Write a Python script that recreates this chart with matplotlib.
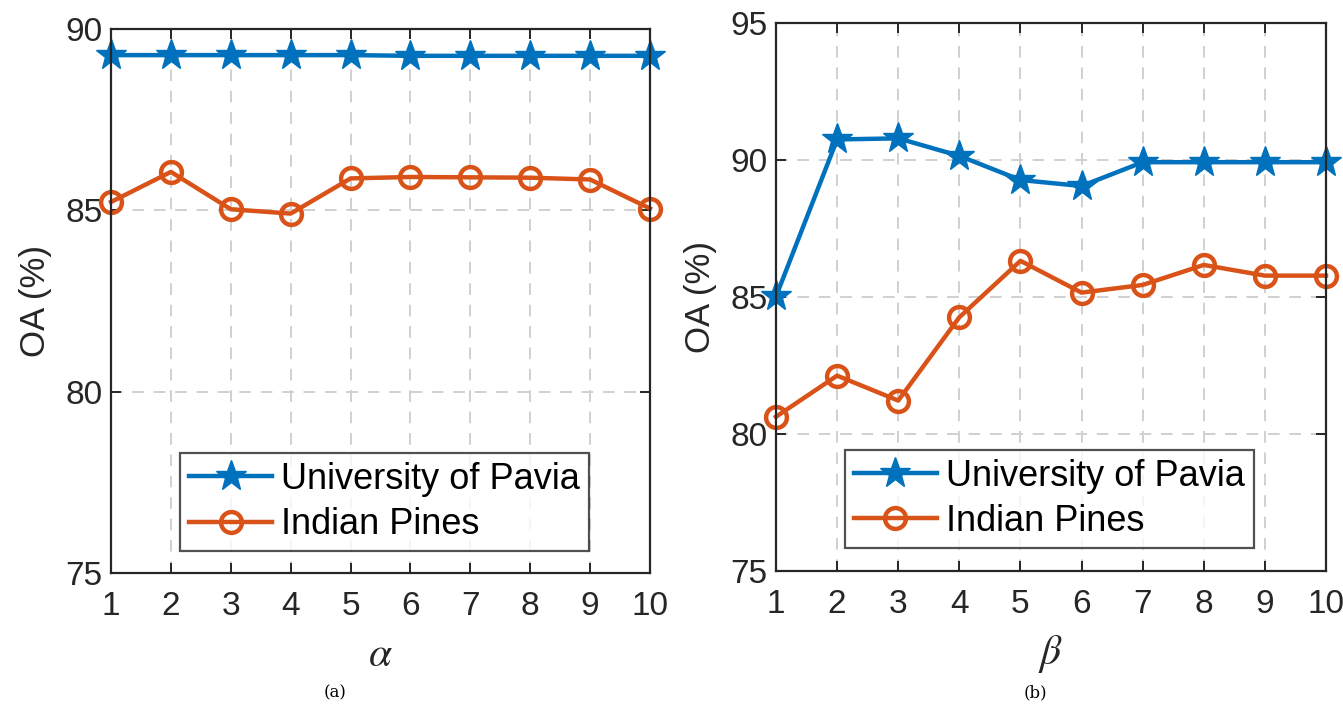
import matplotlib
matplotlib.use("Agg")
import matplotlib.pyplot as plt

# Parameter values
params = [1, 2, 3, 4, 5, 6, 7, 8, 9, 10]

# Overall accuracy (%) versus alpha
alpha_pavia = [89.28, 89.28, 89.28, 89.28, 89.28, 89.26, 89.26, 89.26, 89.26, 89.26]
alpha_pines = [85.23, 86.06, 85.03, 84.91, 85.88, 85.92, 85.91, 85.90, 85.85, 85.05]

# Overall accuracy (%) versus beta
beta_pavia = [85.02, 90.75, 90.79, 90.15, 89.27, 89.05, 89.92, 89.92, 89.92, 89.92]
beta_pines = [80.63, 82.13, 81.22, 84.26, 86.32, 85.16, 85.44, 86.17, 85.78, 85.78]

series_names = ["University of Pavia", "Indian Pines"]
yticks_a = [75, 80, 85, 90]
yticks_b = [75, 80, 85, 90, 95]

BLUE = "#0072BD"
ORANGE = "#D95319"
AXIS = "#262626"

plt.rcParams["font.family"] = ["Liberation Sans", "DejaVu Sans"]
plt.rcParams["mathtext.fontset"] = "stix"

fig = plt.figure(figsize=(13.43, 7.05), dpi=100)
W, H = 1343, 705


def panel(rect, pavia, pines, yticks, xlab, caption, cap_x, leg_bbox):
    x0, y0, x1, y1 = rect
    ax = fig.add_axes([x0 / W, 1 - y1 / H, (x1 - x0) / W, (y1 - y0) / H])
    ax.plot(params, pavia, color=BLUE, lw=3.2, marker="*", ms=23,
            mfc=BLUE, mec=BLUE, label=series_names[0], clip_on=False, zorder=4)
    ax.plot(params, pines, color=ORANGE, lw=3.2, marker="o", ms=15,
            mfc="none", mec=ORANGE, mew=3.2, label=series_names[1],
            clip_on=False, zorder=4)
    ax.set_xlim(1, 10)
    ax.set_ylim(yticks[0], yticks[-1])
    ax.set_xticks(params)
    ax.set_yticks(yticks)
    ax.grid(True, color="#d0d0d0", ls=(0, (6, 5)), lw=1.4)
    ax.tick_params(direction="in", length=7, width=1.4, color=AXIS,
                   labelsize=24, labelcolor=AXIS, top=True, right=True)
    ax.tick_params(axis="x", pad=13)
    ax.tick_params(axis="y", pad=6)
    for s in ax.spines.values():
        s.set_color(AXIS)
        s.set_linewidth(1.6)
        s.set_zorder(5)
    ax.set_ylabel("OA (%)", fontsize=25, color=AXIS, labelpad=10)
    ax.set_xlabel(xlab, fontsize=30, color=AXIS, labelpad=9)
    leg = ax.legend(loc="lower left", bbox_to_anchor=leg_bbox, fontsize=26,
                    frameon=True, fancybox=False, edgecolor=AXIS,
                    handlelength=2.3, borderpad=0.25, labelspacing=0.28,
                    handletextpad=0.25, borderaxespad=0)
    leg.get_frame().set_linewidth(1.6)
    fig.text(cap_x / W, 1 - 693 / H, caption, fontsize=12, family="serif",
             ha="center", va="center")
    return ax


panel((111, 29, 650, 573), alpha_pavia, alpha_pines, yticks_a,
      r"$\alpha$", "(a)", 335, (0.128, 0.04))
panel((776, 23, 1326, 571), beta_pavia, beta_pines, yticks_b,
      r"$\beta$", "(b)", 1035, (0.125, 0.042))

fig.savefig("out.png", dpi=100)
